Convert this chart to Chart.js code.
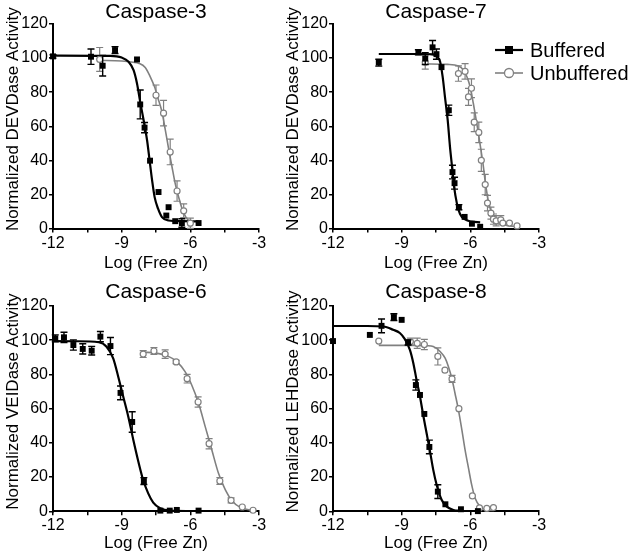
<!DOCTYPE html>
<html>
<head>
<meta charset="utf-8">
<script src="https://cdn.jsdelivr.net/npm/chart.js@4.4.1/dist/chart.umd.min.js"></script>
<style>
  body { margin: 0; background: #fff; width: 637px; height: 560px; position: relative; overflow: hidden; }
  canvas { position: absolute; }
  .leg { position: absolute; left: 494px; height: 22px; display: flex; align-items: center;
         font: 20px "Liberation Sans", Arial, sans-serif; color: #000; white-space: nowrap; }
  .leg svg { margin-right: 6px; }
</style>
</head>
<body>
<canvas id="c3" width="280" height="280" style="left:0;top:0"></canvas>
<canvas id="c7" width="280" height="280" style="left:280px;top:0"></canvas>
<canvas id="c6" width="280" height="280" style="left:0;top:280px"></canvas>
<canvas id="c8" width="280" height="280" style="left:280px;top:280px"></canvas>

<div class="leg" style="top:39px">
  <svg width="30" height="12"><line x1="1" y1="6" x2="29" y2="6" stroke="#000" stroke-width="2.2"/><rect x="11" y="2" width="8" height="8" fill="#000"/></svg>Buffered
</div>
<div class="leg" style="top:62px">
  <svg width="30" height="12"><line x1="1" y1="6" x2="29" y2="6" stroke="#808080" stroke-width="1.6"/><circle cx="15" cy="6" r="4.5" fill="#fff" stroke="#808080" stroke-width="1.3"/></svg>Unbuffered
</div>

<script>
// tick labels
const xTickLabels = [-12, -9, -6, -3];
const panelTitles = ['Caspase-3', 'Caspase-7', 'Caspase-6', 'Caspase-8'];
const yTitles = ['Normalized DEVDase Activity', 'Normalized DEVDase Activity',
                 'Normalized VEIDase Activity', 'Normalized LEHDase Activity'];
const xTitle = 'Log (Free Zn)';

// [log free Zn, activity, error]
const casp3Buffered = [
  [-12.0, 101, 1], [-10.34, 100.8, 4.5], [-9.83, 95.5, 6], [-9.29, 104.7, 2],
  [-8.33, 99.2, 0], [-8.19, 72.8, 8.5], [-8.0, 59.2, 3], [-7.76, 39.8, 0],
  [-7.39, 21.4, 0], [-7.05, 7.6, 0], [-6.95, 12.5, 0], [-6.66, 4.3, 0],
  [-6.37, 3.2, 2.5], [-5.64, 3.2, 0]
];
const casp3Unbuffered = [
  [-9.96, 99.2, 7], [-7.5, 78.2, 6], [-7.17, 67.7, 7.5], [-6.88, 44.9, 7.5],
  [-6.58, 22, 6], [-6.29, 10.4, 4], [-6.0, 3.1, 3]
];
const casp3BufferedFit = [
  [-12, 101.5], [-9.5, 101.3], [-9.0, 100.3], [-8.7, 97.8], [-8.48, 92.9], [-8.33, 85.1],
  [-8.19, 74.3], [-8.04, 63.5], [-7.89, 51.8], [-7.78, 40], [-7.67, 28.2], [-7.56, 18.4],
  [-7.41, 11.6], [-7.24, 6.7], [-6.95, 4.7], [-6.36, 4.3], [-5.64, 4.2]
];
const casp3UnbufferedFit = [
  [-10, 98.6], [-9, 98.3], [-8.5, 97.6], [-8.26, 97], [-7.97, 94.5], [-7.75, 89],
  [-7.56, 83], [-7.41, 76.3], [-7.24, 68.4], [-7.09, 57.6], [-6.95, 46.9], [-6.8, 36.1],
  [-6.66, 26.3], [-6.51, 18.4], [-6.36, 11.6], [-6.19, 6.5], [-6.0, 3.9], [-5.85, 3.2]
];

const casp7Buffered = [
  [-10.0, 97.3, 2], [-8.27, 103.4, 1.5], [-7.97, 99.7, 3.5], [-7.65, 106.3, 4],
  [-7.48, 102.3, 3], [-7.26, 94.7, 0], [-6.94, 69.4, 3], [-6.78, 33.1, 4],
  [-6.69, 26.6, 3.5], [-6.5, 12.5, 1.5], [-6.25, 6.8, 0], [-5.93, 2.8, 0], [-5.57, 1.0, 0]
];
const casp7Unbuffered = [
  [-7.97, 97.5, 4], [-6.52, 90.9, 4.5], [-6.23, 92.2, 4.5], [-6.08, 77.2, 5],
  [-5.95, 82.3, 5.5], [-5.83, 62.4, 5.5], [-5.63, 56.4, 6], [-5.52, 40, 6.5],
  [-5.35, 25.8, 6], [-5.25, 14.9, 4.5], [-5.1, 9, 3.5], [-4.99, 5.5, 3],
  [-4.87, 4.5, 3], [-4.67, 5.1, 2.5], [-4.58, 3.2, 0], [-4.29, 3.2, 0], [-3.96, 1.5, 0]
];
const casp7BufferedFit = [
  [-10, 102.4], [-8, 102.4], [-7.6, 102], [-7.45, 100.8], [-7.32, 97.9], [-7.21, 89.1],
  [-7.11, 77.4], [-6.99, 63.7], [-6.89, 48.1], [-6.8, 36.3], [-6.71, 24.6], [-6.59, 14.9],
  [-6.45, 8.5], [-6.23, 5.3], [-5.94, 4.0], [-5.57, 3.6]
];
const casp7UnbufferedFit = [
  [-8, 96.6], [-7, 96.3], [-6.52, 95.4], [-6.3, 93], [-6.15, 89], [-6.01, 83.2],
  [-5.87, 73.5], [-5.72, 61.8], [-5.57, 49], [-5.45, 38.3], [-5.34, 26.6], [-5.21, 15.8],
  [-5.06, 9], [-4.84, 4.1], [-4.55, 2.2], [-4.11, 1.3], [-3.95, 1.2]
];

const casp6Buffered = [
  [-11.9, 101.1, 2], [-11.52, 101.7, 3], [-11.11, 97.2, 3], [-10.7, 94.9, 3],
  [-10.31, 93.9, 2.5], [-9.93, 102.1, 3], [-9.49, 96.6, 5], [-9.05, 69.2, 4],
  [-8.54, 52.2, 6], [-8.03, 17.7, 2], [-7.31, 0.4, 0], [-6.9, 0.4, 0],
  [-6.59, 0.8, 0], [-5.64, 0.4, 0]
];
const casp6Unbuffered = [
  [-8.06, 91.9, 2], [-7.59, 93.7, 2], [-7.1, 91.9, 2.5], [-6.62, 87.3, 1],
  [-6.14, 77.5, 2.5], [-5.66, 63.9, 3], [-5.18, 39.5, 3], [-4.71, 17.7, 2],
  [-4.22, 6.4, 1.5], [-3.73, 2.5, 0], [-3.26, 0.6, 0]
];
const casp6BufferedFit = [
  [-12, 99.5], [-11, 99.4], [-10, 98.8], [-9.66, 96.2], [-9.37, 89.4], [-9.15, 78.7],
  [-8.93, 67], [-8.71, 55.3], [-8.49, 41.7], [-8.27, 29], [-8.06, 18.3], [-7.84, 10.5],
  [-7.62, 5.1], [-7.32, 1.8], [-6.89, 0.4], [-5.64, 0.1]
];
const casp6UnbufferedFit = [
  [-8.06, 93], [-7.5, 92.5], [-7.03, 91], [-6.59, 87.5], [-6.23, 81.6], [-5.94, 73.8],
  [-5.64, 63.1], [-5.35, 49.5], [-5.06, 35.8], [-4.77, 22.2], [-4.47, 12.5], [-4.18, 6.2],
  [-3.82, 2.3], [-3.26, 0.5]
];

const casp8Buffered = [
  [-12.0, 99.5, 0], [-10.39, 103.1, 0], [-9.88, 108.4, 4], [-9.34, 113.5, 2],
  [-9.0, 111.9, 0], [-8.72, 98.7, 1.5], [-8.38, 73.8, 3], [-8.2, 68, 0],
  [-8.01, 56.9, 0], [-7.79, 37.6, 4], [-7.42, 11.5, 4], [-7.09, 4.1, 0],
  [-6.41, 1.2, 0], [-5.67, 0.1, 0]
];
const casp8Unbuffered = [
  [-10.0, 99.5, 0], [-8.62, 99.2, 2], [-8.32, 98.2, 3], [-8.01, 97.5, 3],
  [-7.42, 90.5, 5], [-7.11, 82.5, 0], [-6.8, 77.4, 2], [-6.5, 60, 0],
  [-5.91, 9, 0], [-5.6, 2, 0], [-5.28, 1.7, 0], [-4.99, 2.2, 0]
];
const casp8BufferedFit = [
  [-12, 108.3], [-10.5, 108.3], [-9.8, 108], [-9.37, 106.1], [-9.08, 104.2], [-8.86, 100.6],
  [-8.64, 94.4], [-8.49, 86.6], [-8.35, 76.8], [-8.2, 67.1], [-8.06, 56.3], [-7.91, 45.6],
  [-7.76, 34.9], [-7.62, 24.2], [-7.47, 15.4], [-7.25, 6.6], [-7.03, 2.7], [-6.74, 0.8], [-6.4, 0.2]
];
const casp8UnbufferedFit = [
  [-10, 97], [-8.5, 97], [-7.9, 96.8], [-7.62, 96.3], [-7.32, 93.4], [-7.1, 89.5],
  [-6.96, 84.6], [-6.81, 77.8], [-6.67, 69], [-6.52, 59.3], [-6.37, 47.6], [-6.23, 35.9],
  [-6.08, 25.2], [-5.94, 15.4], [-5.79, 7.6], [-5.57, 2.7], [-5.28, 0.6], [-5.0, 0.2]
];

const FONT = '"Liberation Sans", Arial, sans-serif';
const TICK_FONT = '"Liberation Sans Narrow", "Liberation Sans", Arial, sans-serif';
const GREY = '#808080';

// draws vertical error bars under the markers of a dataset
const errorBars = {
  id: 'errorBars',
  beforeDatasetDraw(chart, args) {
    const ds = chart.data.datasets[args.index];
    if (!ds.errors) return;
    const ctx = chart.ctx, xs = chart.scales.x, ys = chart.scales.y;
    ctx.save();
    ctx.strokeStyle = ds.borderColor;
    ctx.lineWidth = ds.errorWidth;
    ds.data.forEach((p, i) => {
      const e = ds.errors[i];
      if (!e) return;
      const x = xs.getPixelForValue(p.x);
      const y1 = ys.getPixelForValue(p.y + e);
      const y2 = ys.getPixelForValue(p.y - e);
      ctx.beginPath();
      ctx.moveTo(x, y1); ctx.lineTo(x, y2);
      ctx.moveTo(x - 3.5, y1); ctx.lineTo(x + 3.5, y1);
      ctx.moveTo(x - 3.5, y2); ctx.lineTo(x + 3.5, y2);
      ctx.stroke();
    });
    ctx.restore();
  }
};

function pts(arr) { return arr.map(d => ({ x: d[0], y: d[1] })); }

function makePanel(id, n, buffered, unbuffered, bufferedFit, unbufferedFit, isTop) {
  const ctx = document.getElementById(id).getContext('2d');
  return new Chart(ctx, {
    type: 'scatter',
    data: {
      datasets: [
        { label: 'Buffered', data: pts(buffered), errors: buffered.map(d => d[2]),
          errorWidth: 1.4, pointStyle: 'rect', pointRadius: 4.2, backgroundColor: '#000',
          borderColor: '#000', borderWidth: 0, clip: false, order: 1 },
        { label: 'Unbuffered', data: pts(unbuffered), errors: unbuffered.map(d => d[2]),
          errorWidth: 1.2, pointStyle: 'circle', pointRadius: 3, backgroundColor: '#fff',
          borderColor: GREY, borderWidth: 1.2, clip: false, order: 2 },
        { label: 'Buffered fit', data: pts(bufferedFit), showLine: true, pointRadius: 0,
          borderColor: '#000', borderWidth: 2.2, cubicInterpolationMode: 'monotone', order: 3 },
        { label: 'Unbuffered fit', data: pts(unbufferedFit), showLine: true, pointRadius: 0,
          borderColor: GREY, borderWidth: 1.6, cubicInterpolationMode: 'monotone', order: 4 }
      ]
    },
    options: {
      responsive: false,
      animation: false,
      events: [],
      layout: { padding: { top: 2, right: 21, bottom: 0, left: 0 } },
      plugins: {
        legend: { display: false },
        tooltip: { enabled: false },
        title: {
          display: true, fullSize: false, text: panelTitles[n], color: '#000',
          font: { family: FONT, size: 21, weight: 'normal', lineHeight: 1 },
          padding: { top: 0, bottom: isTop ? 1 : 3 }
        }
      },
      scales: {
        x: {
          type: 'linear', min: -12, max: -3,
          afterFit: s => { s.height = isTop ? 51.5 : 48.7; },
          ticks: {
            stepSize: 1.5, autoSkip: false, maxRotation: 0, color: '#000', padding: 1,
            font: { family: TICK_FONT, size: 16 },
            callback: v => xTickLabels.includes(v) ? String(v) : ''
          },
          grid: { drawOnChartArea: false, drawTicks: true, tickLength: 4, color: '#000', lineWidth: 1.5 },
          border: { color: '#000', width: 2 },
          title: { display: true, text: xTitle, color: '#000',
                   font: { family: FONT, size: 17 }, padding: { top: 0, bottom: 6 } }
        },
        y: {
          min: 0, max: 120,
          afterFit: s => { s.width = 53; },
          ticks: { stepSize: 20, color: '#000', padding: 1, font: { family: TICK_FONT, size: 16 } },
          grid: { drawOnChartArea: false, drawTicks: true, tickLength: 4, color: '#000', lineWidth: 1.5 },
          border: { color: '#000', width: 2 },
          title: { display: true, text: '   ' + yTitles[n], color: '#000',
                   font: { family: FONT, size: 17 }, padding: { top: 3.3, bottom: 0 } }
        }
      }
    },
    plugins: [errorBars]
  });
}

makePanel('c3', 0, casp3Buffered, casp3Unbuffered, casp3BufferedFit, casp3UnbufferedFit, true);
makePanel('c7', 1, casp7Buffered, casp7Unbuffered, casp7BufferedFit, casp7UnbufferedFit, true);
makePanel('c6', 2, casp6Buffered, casp6Unbuffered, casp6BufferedFit, casp6UnbufferedFit, false);
makePanel('c8', 3, casp8Buffered, casp8Unbuffered, casp8BufferedFit, casp8UnbufferedFit, false);
</script>
</body>
</html>
